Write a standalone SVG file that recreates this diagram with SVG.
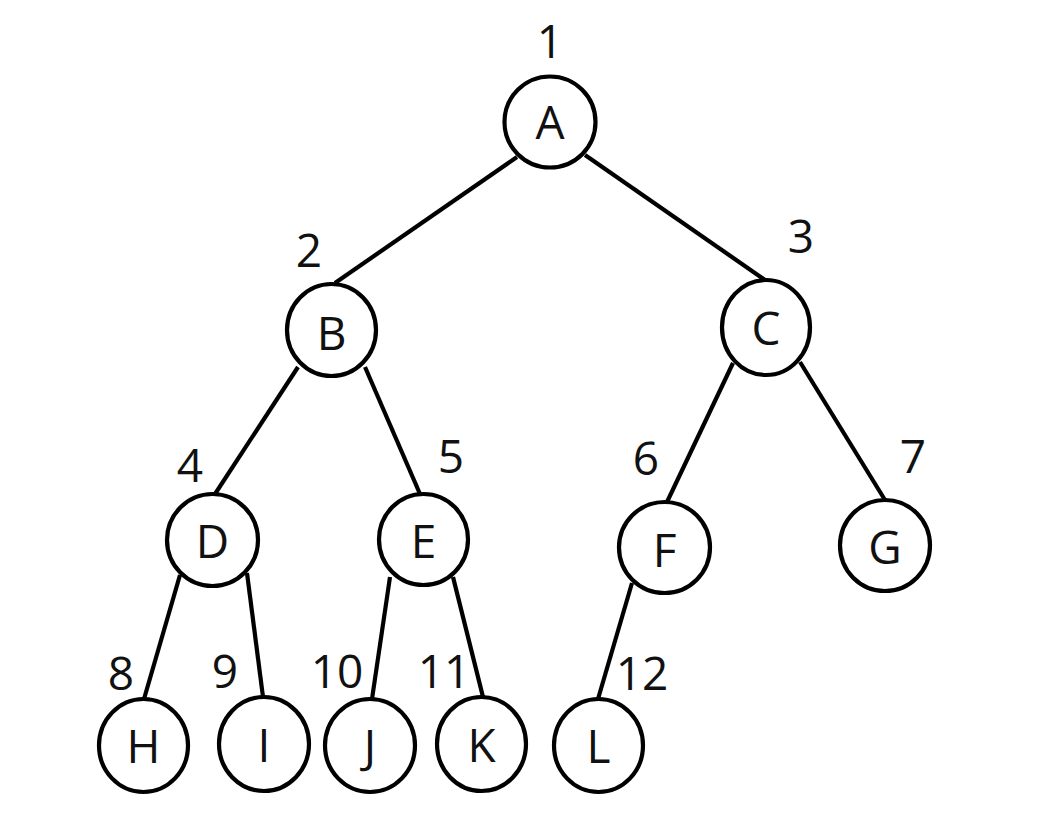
<svg xmlns="http://www.w3.org/2000/svg" width="1038" height="820" viewBox="0 0 1038 820">
<style>
.edge{stroke:#000;stroke-width:4.2;fill:none;stroke-linecap:butt}
.node ellipse{fill:#fff;stroke:#000;stroke-width:4.2}
.lbl{font-family:"Open Sans","Noto Sans",sans-serif;font-size:46px;fill:#111;text-anchor:middle}
</style>
<rect width="1038" height="820" fill="#fff"/>
<g id="connectors">
<line class="edge" x1="517" y1="157" x2="335" y2="283"/>
<line class="edge" x1="585" y1="155" x2="765" y2="280"/>
<line class="edge" x1="298" y1="367" x2="215" y2="494"/>
<line class="edge" x1="365" y1="367" x2="420" y2="494"/>
<line class="edge" x1="733" y1="363" x2="667" y2="502"/>
<line class="edge" x1="800" y1="362" x2="885" y2="500"/>
<line class="edge" x1="180" y1="575" x2="144" y2="699"/>
<line class="edge" x1="247" y1="573" x2="263" y2="697"/>
<line class="edge" x1="390" y1="577" x2="372" y2="699"/>
<line class="edge" x1="453" y1="577" x2="483" y2="697"/>
<line class="edge" x1="632" y1="583" x2="598" y2="699"/>
</g>
<g id="node-A" class="node"><ellipse cx="550" cy="122" rx="45.5" ry="45.5"/><text class="lbl" x="550" y="139">A</text></g>
<g id="node-B" class="node"><ellipse cx="331.5" cy="330" rx="44.5" ry="46"/><text class="lbl" x="331.5" y="350">B</text></g>
<g id="node-C" class="node"><ellipse cx="766" cy="327.5" rx="44" ry="47.5"/><text class="lbl" x="766" y="345">C</text></g>
<g id="node-D" class="node"><ellipse cx="212.5" cy="540" rx="45.5" ry="46"/><text class="lbl" x="212.5" y="558">D</text></g>
<g id="node-E" class="node"><ellipse cx="423.5" cy="539.5" rx="44.5" ry="45.5"/><text class="lbl" x="423.5" y="558">E</text></g>
<g id="node-F" class="node"><ellipse cx="664.5" cy="547.5" rx="45.5" ry="45.5"/><text class="lbl" x="664.5" y="567">F</text></g>
<g id="node-G" class="node"><ellipse cx="885" cy="545.5" rx="45" ry="45.5"/><text class="lbl" x="885" y="564">G</text></g>
<g id="node-H" class="node"><ellipse cx="143.5" cy="745.5" rx="44.5" ry="46.5"/><text class="lbl" x="143.5" y="763">H</text></g>
<g id="node-I" class="node"><ellipse cx="264" cy="744" rx="45" ry="47"/><text class="lbl" x="264" y="762">I</text></g>
<g id="node-J" class="node"><ellipse cx="370" cy="745.5" rx="45" ry="46.5"/><text class="lbl" x="370" y="763">J</text></g>
<g id="node-K" class="node"><ellipse cx="481.5" cy="744" rx="44.5" ry="47"/><text class="lbl" x="481.5" y="762">K</text></g>
<g id="node-L" class="node"><ellipse cx="598.5" cy="745.5" rx="44.5" ry="46.5"/><text class="lbl" x="598.5" y="763">L</text></g>
<g id="labels">
<text class="lbl" x="550" y="58">1</text>
<text class="lbl" x="309" y="267">2</text>
<text class="lbl" x="801" y="253">3</text>
<text class="lbl" x="190" y="482">4</text>
<text class="lbl" x="451" y="473">5</text>
<text class="lbl" x="646" y="475">6</text>
<text class="lbl" x="913" y="473">7</text>
<text class="lbl" x="121" y="690">8</text>
<text class="lbl" x="225" y="688">9</text>
<text class="lbl" x="337" y="688">10</text>
<text class="lbl" x="444" y="688">11</text>
<text class="lbl" x="642" y="690">12</text>
</g>
</svg>
